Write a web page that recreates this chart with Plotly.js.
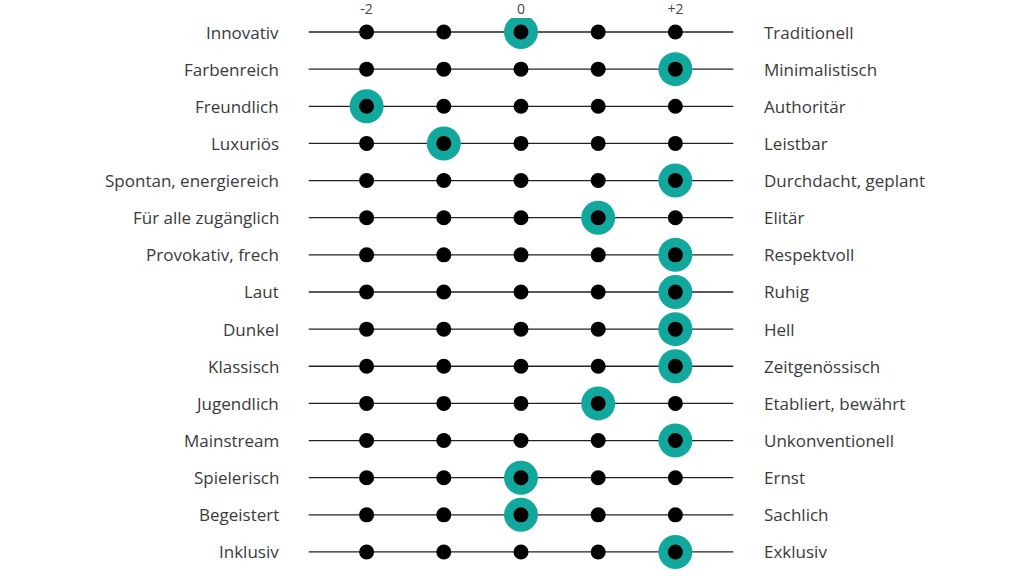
<!DOCTYPE html>
<html><head><meta charset="utf-8">
<script src="https://cdn.plot.ly/plotly-3.0.1.min.js"></script>
<style>html,body{margin:0;padding:0;background:#fff}#chart{width:1024px;height:576px}</style>
</head><body><div id="chart"></div>
<script>
const leftLabels = ["Innovativ","Farbenreich","Freundlich","Luxuriös","Spontan, energiereich","Für alle zugänglich","Provokativ, frech","Laut","Dunkel","Klassisch","Jugendlich","Mainstream","Spielerisch","Begeistert","Inklusiv"];
const rightLabels = ["Traditionell","Minimalistisch","Authoritär","Leistbar","Durchdacht, geplant","Elitär","Respektvoll","Ruhig","Hell","Zeitgenössisch","Etabliert, bewährt","Unkonventionell","Ernst","Sachlich","Exklusiv"];
const scores = [0,2,-2,-1,2,1,2,2,2,2,1,2,0,0,2];
const scaleSteps = [-2,-1,0,1,2];
const tickVals = [-2,0,2];
const tickText = ["-2","0","+2"];

const rows = leftLabels.map((_, i) => i);
const lineX = [], lineY = [];
rows.forEach(i => { lineX.push(-2.75, 2.75, null); lineY.push(i, i, null); });
const dotX = [], dotY = [];
rows.forEach(i => scaleSteps.forEach(s => { dotX.push(s); dotY.push(i); }));

const textFont = {family: "'Open Sans', 'Noto Sans', sans-serif", size: 17, color: "#3a3a3a"};
const annotations = [];
rows.forEach(i => {
  annotations.push({x: -3.11, y: i, text: leftLabels[i], showarrow: false, xanchor: "right", yanchor: "middle", font: textFont});
  annotations.push({x: 3.12, y: i, text: rightLabels[i], showarrow: false, xanchor: "left", yanchor: "middle", font: textFont});
});

const traces = [
  {x: lineX, y: lineY, mode: "lines", line: {color: "#222", width: 1.3}, hoverinfo: "skip"},
  {x: scores, y: rows, mode: "markers", marker: {size: 34, color: "#13a89e"}, hoverinfo: "skip"},
  {x: dotX, y: dotY, mode: "markers", marker: {size: 15, color: "#000"}, hoverinfo: "skip"}
];

const layout = {
  width: 1024, height: 576,
  margin: {l: 0, r: 0, t: 18, b: 0},
  paper_bgcolor: "#fff", plot_bgcolor: "#fff",
  showlegend: false,
  xaxis: {range: [-6.749, 6.516], side: "top", tickvals: tickVals, ticktext: tickText, ticks: "", showgrid: false, zeroline: false, showline: false,
          tickfont: {family: "'Open Sans', 'Noto Sans', sans-serif", size: 14, color: "#444"}, fixedrange: true},
  yaxis: {range: [14.647, -0.377], showticklabels: false, ticks: "", showgrid: false, zeroline: false, showline: false, fixedrange: true},
  annotations: annotations
};
Plotly.newPlot("chart", traces, layout, {staticPlot: true});
</script></body></html>
